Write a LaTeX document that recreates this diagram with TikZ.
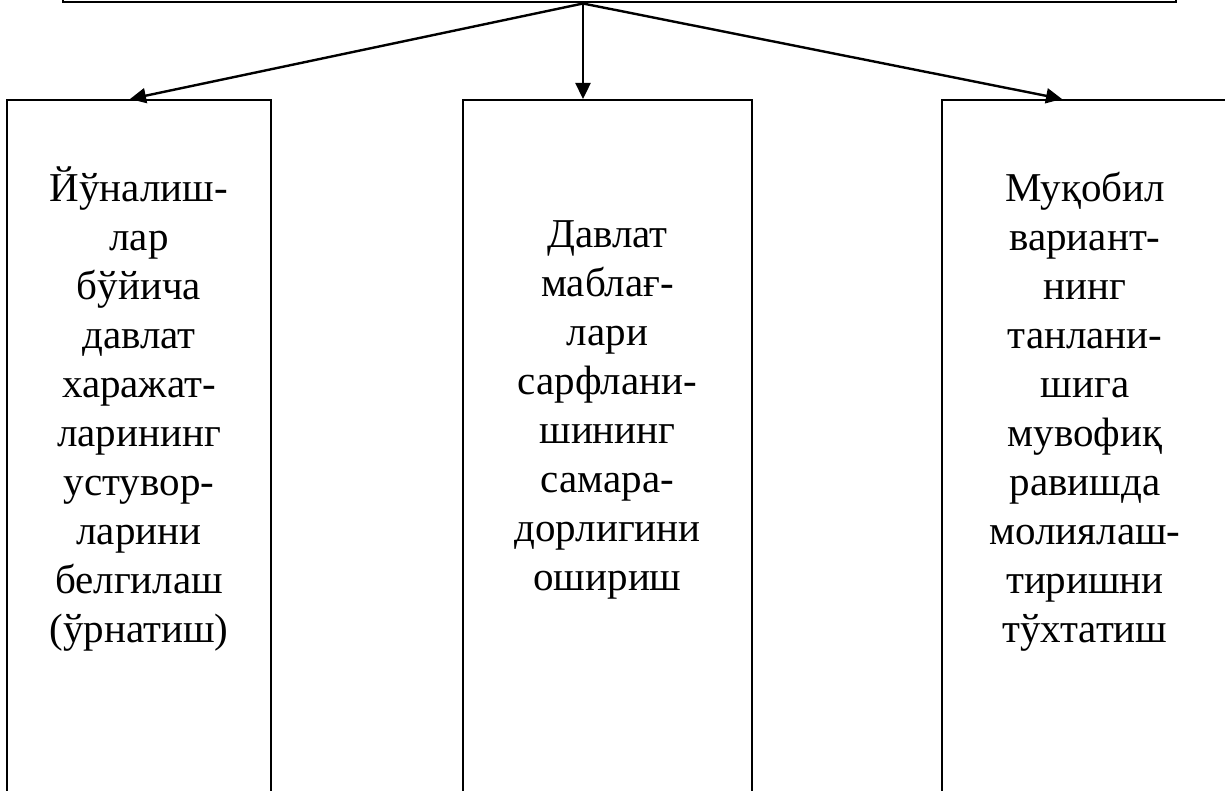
\documentclass[tikz,border=0pt]{standalone}
\usepackage{fontspec}
\setmainfont{Liberation Serif}
\usepackage{xcolor}
\usetikzlibrary{arrows.meta,positioning}
\definecolor{ink}{HTML}{000000}
\tikzset{
  box/.style={draw=ink, line width=2pt, inner sep=0pt},
  arr/.style={draw=ink, line width=2.4pt, -{Triangle[length=16pt,width=15pt]}},
  txt/.style={text=ink, font=\fontsize{41}{49}\selectfont, align=center, inner sep=0pt, anchor=base},
}
\begin{document}
\begin{tikzpicture}[x=1pt,y=-1pt]
  \useasboundingbox (0,0) rectangle (1225,791);
  \clip (0,0) rectangle (1225,791);
  % upper box, mostly above the page
  \node[box, minimum width=1113pt, minimum height=120pt, anchor=south] (top) at (619.5,3.5) {};
  % three lower boxes, running past the bottom edge
  \node[box, minimum width=264pt, minimum height=760pt, anchor=north] (lbox) at (139,99) {};
  \node[box, minimum width=289pt, minimum height=760pt, anchor=north] (mbox) at (607.5,99) {};
  \node[box, minimum width=286pt, minimum height=760pt, anchor=north] (rbox) at (1085,99) {};

  % base anchor sits on the last line
  \node[txt] (ltxt) at (139,642) {Йўналиш-\\лар\\бўйича\\давлат\\харажат-\\ларининг\\устувор-\\ларини\\белгилаш\\(ўрнатиш)};
  \node[txt] (mtxt) at (607.5,590) {Давлат\\маблағ-\\лари\\сарфлани-\\шининг\\самара-\\дорлигини\\ошириш};
  \node[txt] (rtxt) at (1085,642) {Муқобил\\вариант-\\нинг\\танлани-\\шига\\мувофиқ\\равишда\\молиялаш-\\тиришни\\тўхтатиш};

  \coordinate (src) at ([xshift=-36.5pt]top.south);
  \draw[arr] (src) -- ([xshift=-9pt]lbox.north);
  \draw[arr] (src) -- ([xshift=-24.5pt]mbox.north);
  \draw[arr] (src) -- ([xshift=-23pt]rbox.north);
\end{tikzpicture}
\end{document}
